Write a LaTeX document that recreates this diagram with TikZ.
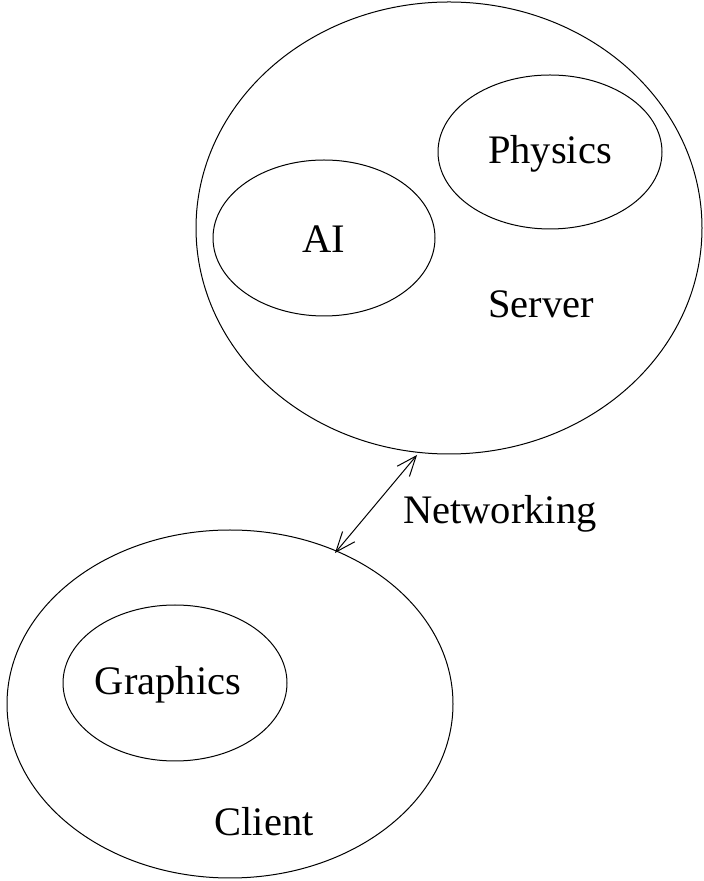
\documentclass[tikz,border=0pt]{standalone}
\usepackage{fontspec}
\setmainfont{Liberation Serif}
\usetikzlibrary{arrows.meta}
\begin{document}
\begin{tikzpicture}[x=1pt,y=1pt,
  oval/.style={draw,line width=1pt},
  lbl/.style={font=\fontsize{40.5}{40.5}\selectfont,inner sep=0pt}]
\useasboundingbox (0,0) rectangle (704,881);
% Server
\draw[oval] (449,653) ellipse [x radius=253, y radius=226];
\draw[oval] (550,729) ellipse [x radius=112, y radius=77];
\draw[oval] (324,643) ellipse [x radius=111, y radius=78];
\node[lbl] (phys) at (550,727) {Physics};
\node[lbl] (ai) at (324,642) {AI};
\node[lbl] (srv) at (541,577) {Server};
% Client
\draw[oval] (230,177) ellipse [x radius=223, y radius=174];
\draw[oval] (175,198) ellipse [x radius=112, y radius=78];
\node[lbl] (gfx) at (168,196) {Graphics};
\node[lbl] (cli) at (264,59) {Client};
% Networking
\coordinate (a) at (417,426);
\coordinate (b) at (335,328);
\draw[line width=1pt,{Straight Barb[length=20pt,width=16pt]}-{Straight Barb[length=20pt,width=16pt]}] (b) -- (a);
\node[lbl] (net) at (500,367) {Networking};
\end{tikzpicture}
\end{document}
